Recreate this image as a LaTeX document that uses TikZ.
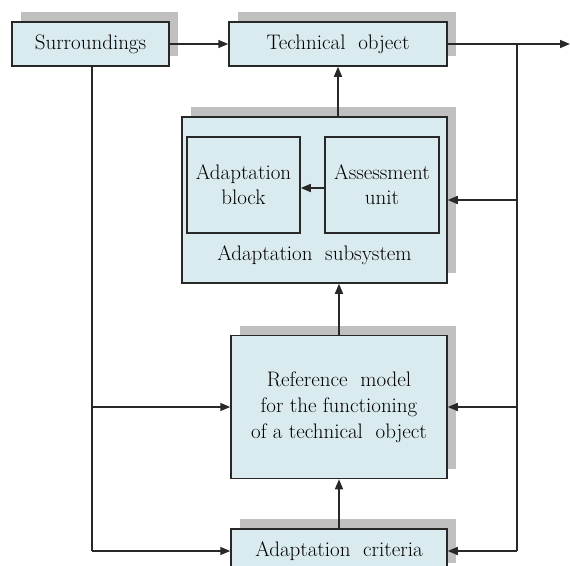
\documentclass[tikz,border=0pt]{standalone}
\usetikzlibrary{arrows.meta,shadows}
\definecolor{boxfill}{RGB}{218,235,240}
\definecolor{shadowgray}{RGB}{192,192,192}
\definecolor{linegray}{RGB}{40,40,40}

\begin{document}
\begin{tikzpicture}[x=1pt,y=-1pt,
  blk/.style={draw=linegray,line width=1.5pt,fill=boxfill,inner sep=0pt,
    align=center,font=\fontsize{21}{26}\selectfont,
    drop shadow={shadow xshift=9pt,shadow yshift=10pt,fill=shadowgray,opacity=1}},
  inner/.style={draw=linegray,line width=1.5pt,fill=boxfill,inner sep=0pt,
    align=center,font=\fontsize{21}{25}\selectfont},
  con/.style={draw=linegray,line width=1.5pt},
  arr/.style={con,-{Triangle[length=10pt,width=8pt]}}]

  \useasboundingbox (0,0) rectangle (570,565);
  \clip (0,0) rectangle (570,565);

  \node[blk,minimum width=157,minimum height=44] (s) at (90.5,44) {Surroundings};
  \node[blk,minimum width=218,minimum height=44] (t) at (338,44) {Technical\ \ object};
  \node[blk,minimum width=265,minimum height=166] (a) at (314.5,200) {};
  \node[inner,minimum width=113,minimum height=96] (b) at (243.5,185) {Adaptation\\block};
  \node[inner,minimum width=114,minimum height=96] (u) at (382,185) {Assessment\\unit};
  \node[font=\fontsize{21}{26}\selectfont] (l) at (314.5,255) {Adaptation\ \ subsystem};
  \node[blk,minimum width=216,minimum height=143] (r) at (339,407)
    {Reference\ \ model\\for the functioning\\of a technical\ \ object};
  \node[blk,minimum width=216,minimum height=44] (c) at (339,551) {Adaptation\ \ criteria};

  \coordinate (o) at (570,44);
  \coordinate (j) at (517,44);
  \coordinate (k) at (92,0);

  \draw [arr] (s) -- (t);
  \draw [arr] (t.east) -- (o);
  \draw [arr] (u.west |- 0,188) -- (b.east |- 0,188);
  \draw [arr] (a.north -| t.south) -- (t.south);
  \draw [arr] (r.north) -- (r.north |- a.south);
  \draw [arr] (c.north) -- (r.south);
  \draw [con] (j) -- (j |- c.east);
  \draw [arr] (j |- a.east) -- (a.east);
  \draw [arr] (j |- r.east) -- (r.east);
  \draw [arr] (j |- c.east) -- (c.east);
  \draw [con] (k |- s.south) -- (k |- c.west);
  \draw [arr] (k |- r.west) -- (r.west);
  \draw [arr] (k |- c.west) -- (c.west);

\end{tikzpicture}
\end{document}
